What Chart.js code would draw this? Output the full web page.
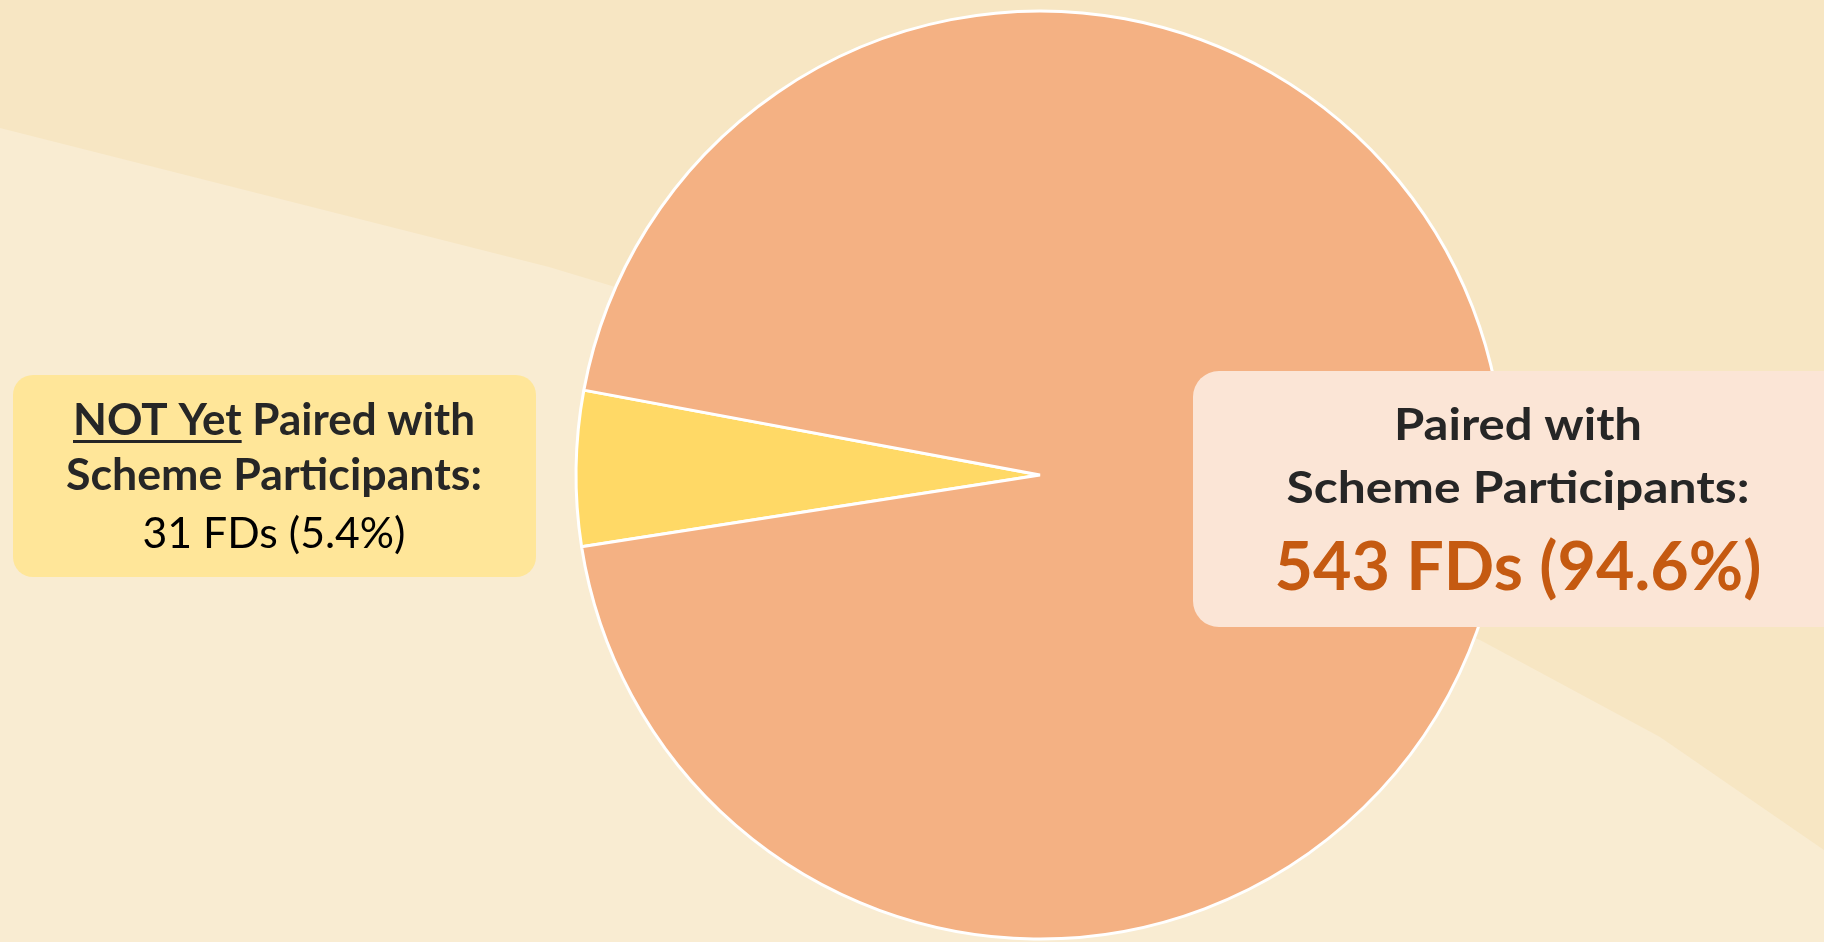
<!DOCTYPE html>
<html>
<head>
<meta charset="utf-8">
<title>FD pairing</title>
<script src="https://cdn.jsdelivr.net/npm/chart.js@4.4.1/dist/chart.umd.min.js"></script>
<style>
  html, body { margin: 0; padding: 0; background: #F7E6C3; }
  #wrap { width: 1824px; height: 942px; position: relative; }
</style>
</head>
<body>
<div id="wrap"><canvas id="pairing-chart" width="1824" height="942"></canvas></div>
<script>
// data
const categories = ["NOT Yet Paired with Scheme Participants", "Paired with Scheme Participants"];
const fdCounts = [31, 543];
const sliceColors = ["#FFD966", "#F4B183"];

const total = fdCounts.reduce((a, b) => a + b, 0);
const pct = fdCounts.map(v => (v / total * 100).toFixed(1));

const FONT = 'Lato, "Open Sans", sans-serif';

// soft background bands behind the pie
const backdrop = {
  id: "backdrop",
  beforeDraw(chart) {
    const ctx = chart.ctx;
    ctx.save();
    ctx.fillStyle = "#F7E6C3";
    ctx.fillRect(0, 0, chart.width, chart.height);
    ctx.fillStyle = "#F9ECD2";
    ctx.beginPath();
    const pts = [[0,128],[549,267],[612,286],[1040,475],[1480,640],[1660,737],[1824,850],[1824,942],[0,942]];
    pts.forEach((p, i) => i ? ctx.lineTo(p[0], p[1]) : ctx.moveTo(p[0], p[1]));
    ctx.closePath();
    ctx.fill();
    ctx.restore();
  }
};

function roundBox(ctx, x, y, w, h, r, color) {
  ctx.fillStyle = color;
  ctx.beginPath();
  ctx.roundRect(x, y, w, h, r);
  ctx.fill();
}

// draws one line made of segments, squeezed to the target width (calibri-ish look)
function drawLine(ctx, cx, y, size, width, segs) {
  let widths = segs.map(s => {
    ctx.font = (s.bold ? "bold " : "") + size + "px " + FONT;
    return ctx.measureText(s.text).width;
  });
  let full = widths.reduce((a, b) => a + b, 0);
  let sx = width / full;
  ctx.save();
  ctx.translate(cx, y);
  ctx.scale(sx, 1);
  let x = -full / 2;
  segs.forEach((s, i) => {
    ctx.font = (s.bold ? "bold " : "") + size + "px " + FONT;
    ctx.fillStyle = s.color;
    ctx.textAlign = "left";
    ctx.textBaseline = "alphabetic";
    ctx.fillText(s.text, x, 0);
    if (s.underline) {
      ctx.fillRect(x, 5, widths[i], 3);
    }
    x += widths[i];
  });
  ctx.restore();
}

const boxLabels = {
  id: "boxLabels",
  afterDraw(chart) {
    const ctx = chart.ctx;
    const dark = "#262626";
    ctx.save();
    // left: not yet paired
    roundBox(ctx, 13, 375, 523, 202, 20, "#FFE699");
    drawLine(ctx, 274, 435, 43, 402, [
      {text: "NOT Yet", bold: true, underline: true, color: dark},
      {text: " Paired with", bold: true, color: dark}
    ]);
    drawLine(ctx, 274, 490, 43, 416, [{text: "Scheme Participants:", bold: true, color: dark}]);
    drawLine(ctx, 274, 548, 43, 263, [{text: fdCounts[0] + " FDs (" + pct[0] + "%)", bold: false, color: "#000000"}]);

    // right: paired
    roundBox(ctx, 1193, 371, 680, 256, 26, "#FBE5D6");
    drawLine(ctx, 1518, 440, 44, 248, [{text: "Paired with", bold: true, color: dark}]);
    drawLine(ctx, 1518, 503, 44, 463, [{text: "Scheme Participants:", bold: true, color: dark}]);
    drawLine(ctx, 1518, 590, 67, 487, [{text: fdCounts[1] + " FDs (" + pct[1] + "%)", bold: true, color: "#C55A11"}]);
    ctx.restore();
  }
};

new Chart("pairing-chart", {
  type: "pie",
  data: {
    labels: categories,
    datasets: [{
      data: fdCounts,
      backgroundColor: sliceColors,
      borderColor: "#FFFFFF",
      borderWidth: 3,
    }],
  },
  options: {
    responsive: false,
    animation: false,
    rotation: 261.1,
    radius: 464,
    layout: { padding: { left: 256, right: 0, top: 8, bottom: 0 } },
    plugins: {
      legend: { display: false },
      tooltip: { enabled: false },
    },
  },
  plugins: [backdrop, boxLabels],
});
</script>
</body>
</html>
